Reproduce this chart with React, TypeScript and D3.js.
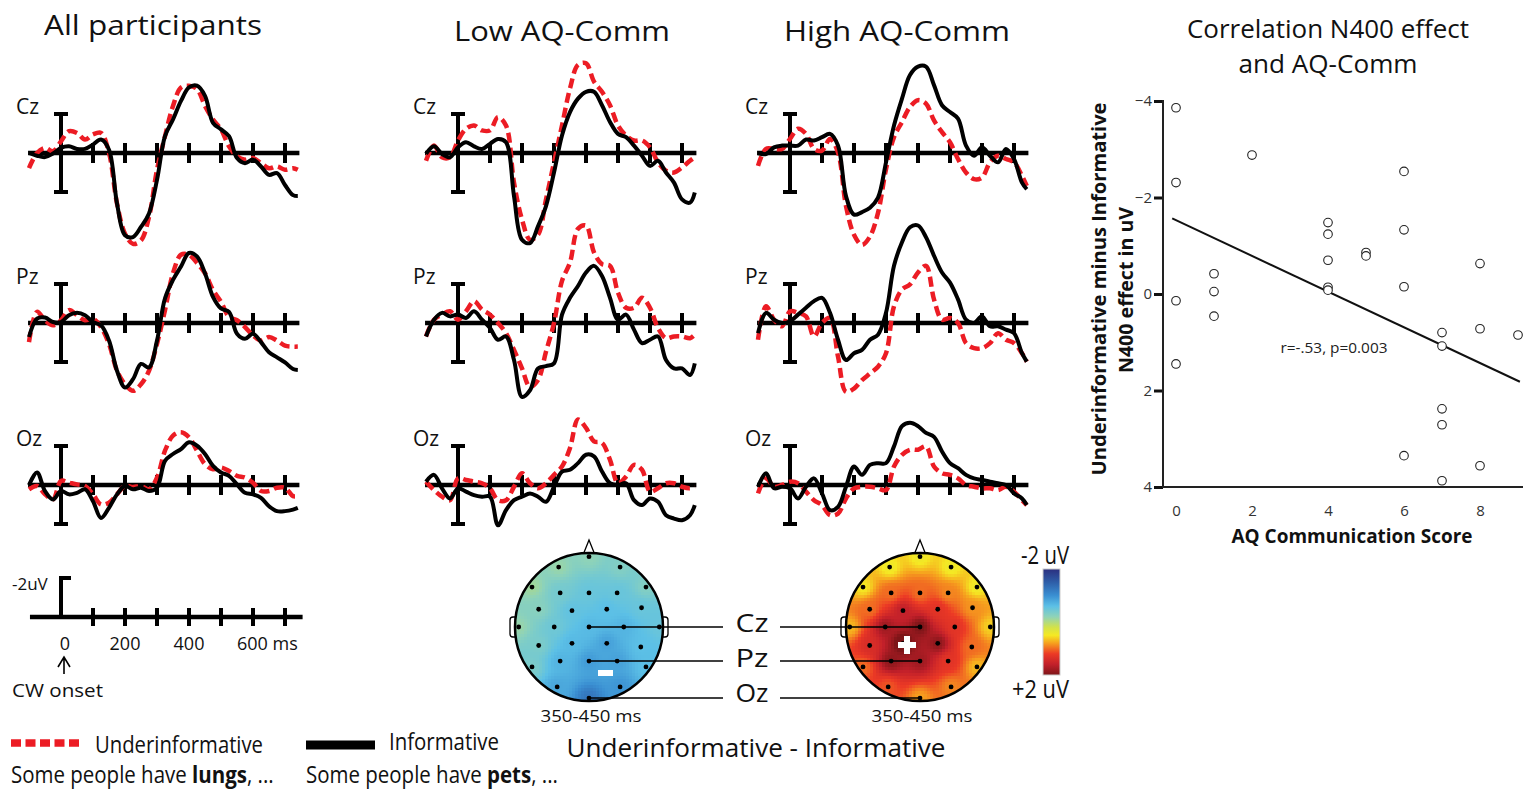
import React, { useEffect, useRef } from 'react'
import * as d3 from 'd3'

// ERP sample times (ms)
const times = [-100, -75, -50, -25, 0, 25, 50, 75, 100, 125, 150, 175, 200, 225, 250, 275, 300, 325, 350, 375, 400, 425, 450, 475, 500, 525, 550, 575, 600, 625, 650, 675, 700, 725, 740]
const erpTicks = [100, 200, 300, 400, 500, 600, 700]
const scaleLabels = [0, 200, 400, 600]

// amplitudes in uV (negative plotted up)
// All participants
const allCzUnder = [0.78, 0, -0.26, -0.09, -0.6, -1.12, -1.03, -0.69, -0.95, -1.03, 0, 2.59, 4.14, 4.66, 4.48, 3.28, 0.86, -0.86, -2.41, -3.36, -3.45, -3.28, -2.41, -1.72, -1.21, -0.34, 0.17, 0.34, 0.26, 0.52, 0.78, 0.69, 0.86, 0.78, 0.86]
const allCzInf = [0, 0.14, 0.21, 0.03, -0.26, -0.34, -0.21, -0.21, -0.43, -0.69, -0.17, 2.59, 4.22, 4.31, 3.79, 3.1, 1.38, -0.86, -1.72, -2.67, -3.36, -3.45, -2.93, -1.55, -1.21, -0.86, 0.26, 0.52, 0.34, 0.69, 1.12, 1.03, 1.64, 2.16, 2.21]
const allPzUnder = [0.98, -0.57, -0.14, 0.12, -0.14, -0.66, -0.4, -0.14, -0.22, 0.21, 1.07, 2.45, 3.14, 3.48, 3.14, 2.45, 1.07, -0.66, -2.55, -3.5, -3.5, -3.07, -2.55, -1.69, -1.09, -0.31, -0.14, 0.21, 0.64, 0.9, 0.72, 0.9, 1.16, 1.21, 1.21]
const allPzInf = [0.72, -0.22, -0.28, -0.05, -0.05, -0.4, -0.52, -0.4, -0.05, 0.12, 0.9, 2.45, 3.31, 2.88, 2.1, 2.28, 0.9, -1.26, -2.21, -2.9, -3.59, -3.41, -2.55, -1.34, -0.74, -0.57, 0.55, 0.81, 0.55, 0.98, 1.5, 1.76, 2.02, 2.36, 2.41]
const allOzUnder = [0.22, 0.05, 0.48, 0.74, -0.21, -0.12, -0.03, 0.05, 0.48, 1.0, 0.91, 0.48, 0.05, 0.1, 0.05, 0.22, -0.38, -1.76, -2.53, -2.71, -2.45, -1.76, -1.07, -0.81, -0.9, -0.72, -0.47, -0.38, -0.12, 0.31, 0.31, 0.14, 0.14, 0.57, 0.57]
const allOzInf = [0, -0.64, 0.31, 0.74, 0.31, 0.48, 0.4, 0.22, 0.83, 1.69, 1.17, 0.48, 0.05, 0.22, 0.14, 0.31, 0.14, -1.24, -1.59, -1.84, -2.19, -2.02, -1.59, -0.98, -0.64, -0.47, -0.03, 0.4, 0.48, 0.66, 1.09, 1.34, 1.34, 1.26, 1.17]
// Low AQ-Comm
const lowCzUnder = [0.4, -0.38, 0.22, 0.22, -0.64, -1.24, -1.41, -1.16, -1.16, -1.84, -1.41, 1.52, 3.41, 4.45, 4.19, 2.38, 0.48, -1.41, -3.31, -4.52, -4.6, -3.66, -3.14, -2.45, -1.41, -0.9, -0.64, -0.64, -0.29, 0.48, 0.91, 1.0, 0.74, 0.4, 0.22]
const lowCzInf = [0.05, -0.34, 0.05, 0.22, -0.29, -0.55, -0.34, -0.21, -0.47, -0.72, -0.55, 2.21, 4.45, 4.62, 3.76, 2.72, 1.0, -0.9, -2.1, -2.79, -3.14, -3.14, -2.45, -1.59, -0.98, -0.81, -0.38, 0.14, 0.66, 0.4, 1.0, 1.52, 2.38, 2.55, 2.03]
const lowPzUnder = [0.69, -0.17, -0.43, -0.6, -0.17, -0.6, -1.12, -0.69, -0.43, 0, 0.52, 1.38, 2.33, 3.28, 2.93, 1.47, 0, -2.16, -3.1, -4.83, -5.0, -3.62, -3.02, -2.93, -1.55, -0.78, -0.78, -1.29, -0.78, 0.26, 0.78, 0.69, 0.69, 0.78, 0.6]
const lowPzInf = [0.69, -0.17, -0.52, -0.34, -0.43, -0.26, -0.6, -0.17, 0.26, 0.86, 0.69, 1.9, 3.79, 3.45, 2.33, 2.21, 2.07, -0.43, -1.29, -1.9, -2.59, -2.93, -2.41, -1.29, -0.17, -0.43, 0.34, 1.03, 0.86, 0.69, 1.9, 2.33, 2.33, 2.67, 2.07]
const lowOzUnder = [-0.17, 0.26, 0.6, 0.78, -0.34, -0.26, -0.17, -0.09, 0.17, 0.78, 0.78, 0.09, -0.6, -0.09, 0.17, -0.09, -0.52, -0.95, -1.9, -3.36, -2.93, -2.24, -2.16, -1.29, -0.09, -0.43, -1.03, -0.78, 0.34, 0.17, -0.09, -0.09, 0.09, 0.17, 0.09]
const lowOzInf = [-0.17, -0.52, 0.17, 0.69, 0.17, 0.34, 0.52, 0.6, 0.6, 2.07, 1.29, 0.78, 0.6, 0.43, 0.6, 0.86, 0.09, -0.69, -0.78, -1.12, -1.55, -1.47, -0.69, -0.09, 0, -0.09, 0.78, 1.03, 0.69, 0.86, 1.55, 1.72, 1.81, 1.55, 1.03]
// High AQ-Comm
const highCzUnder = [0.66, -0.21, -0.21, -0.21, -0.72, -1.24, -0.98, -0.21, -0.12, -0.72, -0.03, 2.72, 4.19, 4.71, 4.28, 3.07, 0.83, -0.81, -1.59, -2.36, -2.71, -2.53, -1.67, -1.07, -0.55, 0.31, 1.0, 1.34, 1.26, 0.48, 0.14, 0.31, 0.48, 1.17, 1.69]
const highCzInf = [0, 0.05, -0.29, -0.38, -0.38, -0.38, -0.69, -0.64, -0.81, -0.98, -0.38, 2.21, 3.16, 3.03, 2.81, 2.29, 0.48, -1.41, -2.79, -4.0, -4.43, -4.43, -3.48, -2.45, -2.1, -1.76, -0.38, 0.14, -0.29, 0.14, 0.48, -0.21, 0.31, 1.52, 1.86]
const highPzUnder = [0.86, -0.86, -0.17, 0.17, -0.6, -0.52, -0.34, 0.69, 0, -0.26, 1.72, 3.53, 3.36, 2.93, 2.59, 2.24, 1.55, -0.86, -1.72, -1.98, -2.59, -2.93, -1.21, -0.17, -0.26, 0, 1.03, 1.29, 1.29, 1.03, 0.52, 0.86, 1.03, 1.55, 1.98]
const highPzInf = [0.52, -0.52, -0.17, 0, -0.09, -0.43, -0.78, -1.12, -1.29, -0.52, 0.86, 1.9, 1.55, 1.38, 0.86, 0.6, -0.52, -2.93, -4.14, -4.91, -5.0, -4.4, -3.45, -2.59, -2.07, -1.21, -0.17, 0, -0.34, 0.17, 0.17, 0.34, 0.52, 1.55, 1.98]
const highOzUnder = [0.43, -0.34, 0.09, 0, -0.17, -0.09, 0.34, 0.78, 1.03, 1.55, 1.47, 0.69, 0.17, 0.09, 0.09, 0.17, 0.26, -0.95, -1.55, -1.81, -1.81, -1.98, -0.95, -0.6, -0.52, -0.34, 0, 0.09, 0.17, 0.17, 0.26, 0.09, 0.34, 0.78, 1.03]
const highOzInf = [0.09, -0.6, 0.17, 0.09, 0.17, 0.69, 0.09, -0.34, 0.43, 1.29, 1.12, 0.09, -0.95, -0.52, -1.03, -1.12, -1.12, -1.98, -3.02, -3.19, -3.02, -2.67, -2.47, -1.72, -1.12, -0.86, -0.52, -0.34, -0.26, -0.17, -0.09, 0, 0.43, 0.69, 1.03]

const electrodeNames = ['Cz', 'Pz', 'Oz']

// topography: electrode positions (unit head) and mean difference in 350-450 ms
const electrodes = [[0, -0.95], [-0.41, -0.81], [0.42, -0.81], [-0.77, -0.54], [0.77, -0.54], [-0.39, -0.46], [0, -0.46], [0.38, -0.46], [-0.68, -0.24], [-0.23, -0.22], [0.24, -0.24], [0.71, -0.26], [-0.95, 0], [-0.47, 0], [0, 0], [0.47, 0], [0.95, 0], [-0.68, 0.25], [-0.23, 0.22], [0.24, 0.22], [0.7, 0.27], [-0.77, 0.54], [-0.39, 0.46], [0, 0.46], [0.38, 0.46], [0.77, 0.54], [-0.43, 0.81], [0.42, 0.81], [0, 0.96]]
const lowTopo = [-0.2, -0.15, -0.3, -0.1, -0.3, -0.4, -0.5, -0.5, -0.25, -0.55, -0.6, -0.5, -0.15, -0.45, -0.65, -0.7, -0.5, -0.35, -0.65, -0.85, -0.6, -0.35, -0.7, -0.9, -0.85, -0.6, -0.8, -0.95, -1.25]
const highTopo = [0.45, 0.45, 0.45, 0.5, 0.45, 1.0, 1.0, 0.9, 1.0, 1.6, 1.3, 0.85, 0.7, 1.8, 2.0, 1.3, 0.6, 1.4, 2.2, 1.9, 1.0, 1.0, 1.9, 1.8, 1.3, 0.7, 1.1, 0.9, 0.8]
const topoStops = [-2, -1.5, -1, -0.6, -0.2, 0.2, 0.5, 0.8, 1.2, 1.6, 2]
const topoColors = ['#2b2f7f', '#2e5ea8', '#3a8fd2', '#5cc0e6', '#8fd3b8', '#d2e24a', '#f5e923', '#f6a01e', '#ec3a25', '#c2202a', '#7d1518']

// correlation: AQ communication score vs N400 effect
const aqScore = [0, 0, 0, 0, 2, 1, 1, 1, 4, 4, 4, 4, 4, 5, 5, 6, 6, 6, 6, 7, 7, 7, 7, 7, 8, 8, 8, 9]
const n400Effect = [-3.86, -2.31, 0.14, 1.45, -2.88, -0.42, -0.05, 0.46, -1.48, -1.24, -0.7, -0.14, -0.08, -0.86, -0.79, -2.54, -1.33, -0.15, 3.35, 0.8, 1.08, 2.38, 2.71, 3.87, -0.63, 0.72, 3.56, 0.85]
const fitIntercept = -1.53
const fitSlope = 0.37
const yTicks = [-4, -2, 0, 2, 4]
const xTicks = [0, 2, 4, 6, 8]

const SANS = "'Open Sans', 'Noto Sans', sans-serif"
const RED = '#ec1c24'

function label(g: any, x: number, y: number, s: string, size: number, opts: any = {}) {
	const t = g.append('text')
		.attr('x', x).attr('y', y)
		.attr('font-family', SANS)
		.attr('font-size', size)
		.attr('font-weight', opts.weight || 400)
		.attr('text-anchor', opts.anchor || 'start')
		.attr('fill', opts.fill || '#111')
		.text(s)
	if (opts.len) t.attr('textLength', opts.len).attr('lengthAdjust', 'spacingAndGlyphs')
	return t
}

// sentence with a bold word, squeezed horizontally like a condensed face
function sentence(g: any, x: number, y: number, word: string, squeeze: number) {
	const t = g.append('g').attr('transform', `translate(${x},${y}) scale(${squeeze},1)`)
		.append('text')
		.attr('font-family', SANS).attr('font-size', 23).attr('fill', '#111')
	t.append('tspan').text('Some people have ')
	t.append('tspan').attr('font-weight', 700).text(word)
	t.append('tspan').text(', ...')
}

function draw(svg: any) {
	const panels = [
		{ title: 'All participants', tx: 153, ty: 35, tlen: 218, x0: 61, rows: [[allCzUnder, allCzInf], [allPzUnder, allPzInf], [allOzUnder, allOzInf]] },
		{ title: 'Low AQ-Comm', tx: 562, ty: 41, tlen: 216, x0: 458, rows: [[lowCzUnder, lowCzInf], [lowPzUnder, lowPzInf], [lowOzUnder, lowOzInf]] },
		{ title: 'High AQ-Comm', tx: 897, ty: 41, tlen: 226, x0: 790, rows: [[highCzUnder, highCzInf], [highPzUnder, highPzInf], [highOzUnder, highOzInf]] }
	]
	const rowBase = [153, 323, 485]

	panels.forEach(p => {
		const x = d3.scaleLinear().domain([0, 100]).range([p.x0, p.x0 + 32])
		label(svg, p.tx, p.ty, p.title, 28, { anchor: 'middle', len: p.tlen })

		p.rows.forEach((row, ri) => {
			const base = rowBase[ri]
			const y = d3.scaleLinear().domain([0, 1]).range([base, base + 19.5])
			const g = svg.append('g')

			// time axis with 100 ms ticks
			g.append('line').attr('x1', x(-103)).attr('x2', x(745)).attr('y1', base).attr('y2', base)
				.attr('stroke', '#000').attr('stroke-width', 4.5)
			g.selectAll('line.tick').data(erpTicks).enter().append('line')
				.attr('x1', (d: number) => x(d)).attr('x2', (d: number) => x(d))
				.attr('y1', base - 10).attr('y2', base + 10)
				.attr('stroke', '#000').attr('stroke-width', 4)

			// +-2 uV scale bar
			g.append('line').attr('x1', x(0)).attr('x2', x(0)).attr('y1', y(-2)).attr('y2', y(2))
				.attr('stroke', '#000').attr('stroke-width', 4)
			;[-2, 2].forEach(v => {
				g.append('line').attr('x1', x(0) - 7).attr('x2', x(0) + 7).attr('y1', y(v)).attr('y2', y(v))
					.attr('stroke', '#000').attr('stroke-width', 4)
			})
			label(g, x(0) - 45, base - 39, electrodeNames[ri], 21)

			const line = d3.line<number>()
				.x((d, i) => x(times[i]))
				.y(d => y(d))
				.curve(d3.curveCatmullRom.alpha(0.5))
			g.append('path').attr('d', line(row[0])).attr('fill', 'none')
				.attr('stroke', RED).attr('stroke-width', 4.5).attr('stroke-dasharray', '10 5')
			g.append('path').attr('d', line(row[1])).attr('fill', 'none')
				.attr('stroke', '#000').attr('stroke-width', 4).attr('stroke-linejoin', 'round')
		})
	})

	// calibration axis below first panel
	{
		const x = d3.scaleLinear().domain([0, 100]).range([61, 93])
		const base = 617
		const y = d3.scaleLinear().domain([0, 1]).range([base, base + 19.5])
		const g = svg.append('g')
		g.append('line').attr('x1', x(-97)).attr('x2', x(755)).attr('y1', base).attr('y2', base)
			.attr('stroke', '#000').attr('stroke-width', 4.5)
		g.selectAll('line.tick').data(erpTicks).enter().append('line')
			.attr('x1', (d: number) => x(d)).attr('x2', (d: number) => x(d))
			.attr('y1', base - 9).attr('y2', base + 9)
			.attr('stroke', '#000').attr('stroke-width', 4)
		g.append('line').attr('x1', x(0)).attr('x2', x(0)).attr('y1', y(-2)).attr('y2', base)
			.attr('stroke', '#000').attr('stroke-width', 4)
		g.append('line').attr('x1', x(0) - 2).attr('x2', x(0) + 10).attr('y1', y(-2)).attr('y2', y(-2))
			.attr('stroke', '#000').attr('stroke-width', 4)
		label(g, 12, 590, '-2uV', 17)
		scaleLabels.forEach(v => {
			if (v === 600) label(g, x(v) - 16, 650, '600 ms', 18)
			else label(g, x(v) + (v === 0 ? 4 : 0), 650, String(v), 18, { anchor: 'middle' })
		})
		g.append('path').attr('d', `M${x(0) - 3},667 L${x(0) + 3},657 L${x(0) + 9},667 M${x(0) + 3},657 L${x(0) + 3},674`)
			.attr('fill', 'none').attr('stroke', '#000').attr('stroke-width', 1.6)
		label(g, 12, 697, 'CW onset', 18, { len: 91 })
	}

	// legend
	{
		const g = svg.append('g')
		g.append('line').attr('x1', 11).attr('x2', 81).attr('y1', 743).attr('y2', 743)
			.attr('stroke', RED).attr('stroke-width', 7.5).attr('stroke-dasharray', '10 4.5')
		label(g, 95, 753, 'Underinformative', 24, { len: 168 })
		g.append('line').attr('x1', 306).attr('x2', 375).attr('y1', 745).attr('y2', 745)
			.attr('stroke', '#000').attr('stroke-width', 9)
		label(g, 389, 750, 'Informative', 24, { len: 110 })
		sentence(g, 11, 783, 'lungs', 0.89)
		sentence(g, 306, 783, 'pets', 0.89)
	}

	// topographic maps
	const color = d3.scaleLinear<string>().domain(topoStops).range(topoColors).clamp(true)
	const heads = [{ cx: 589, values: lowTopo, sign: '-' }, { cx: 920, values: highTopo, sign: '+' }]
	const cy = 627
	const r = 74
	const defs = svg.append('defs')
	heads.forEach((h, hi) => {
		const g = svg.append('g')
		const clipId = 'headclip' + hi
		defs.append('clipPath').attr('id', clipId).append('circle').attr('cx', h.cx).attr('cy', cy).attr('r', r)
		// nose & ears
		g.append('path').attr('d', `M${h.cx - 6},${cy - r + 2} L${h.cx},${cy - r - 13} L${h.cx + 6},${cy - r + 2}`)
			.attr('fill', '#fff').attr('stroke', '#000').attr('stroke-width', 1.3)
		;[-1, 1].forEach(sd => {
			g.append('rect').attr('x', sd < 0 ? h.cx - r - 5 : h.cx + r - 3).attr('y', cy - 10).attr('width', 8).attr('height', 20)
				.attr('rx', 3).attr('fill', '#fff').attr('stroke', '#000').attr('stroke-width', 1.3)
		})
		const cells: { x: number, y: number, v: number }[] = []
		const step = 3
		for (let px = h.cx - r; px < h.cx + r; px += step) {
			for (let py = cy - r; py < cy + r; py += step) {
				const nx = (px + step / 2 - h.cx) / r
				const ny = (py + step / 2 - cy) / r
				if (nx * nx + ny * ny > 1.1) continue
				let ws = 0, vs = 0
				electrodes.forEach((e, i) => {
					const d2 = (e[0] - nx) ** 2 + (e[1] - ny) ** 2 + 1e-4
					const w = 1 / Math.pow(d2, 1.3)
					ws += w
					vs += w * h.values[i]
				})
				cells.push({ x: px, y: py, v: vs / ws })
			}
		}
		g.append('g').attr('clip-path', `url(#${clipId})`)
			.selectAll('rect').data(cells).enter().append('rect')
			.attr('x', (d: any) => d.x).attr('y', (d: any) => d.y)
			.attr('width', step + 0.5).attr('height', step + 0.5)
			.attr('fill', (d: any) => color(d.v))
		g.append('circle').attr('cx', h.cx).attr('cy', cy).attr('r', r)
			.attr('fill', 'none').attr('stroke', '#000').attr('stroke-width', 2.5)
		g.selectAll('circle.el').data(electrodes).enter().append('circle')
			.attr('cx', (e: number[]) => h.cx + e[0] * r).attr('cy', (e: number[]) => cy + e[1] * r)
			.attr('r', 2.4).attr('fill', '#000')
		if (h.sign === '-') {
			g.append('rect').attr('x', h.cx + 9).attr('y', 670).attr('width', 15).attr('height', 6).attr('fill', '#fff')
		} else {
			g.append('rect').attr('x', h.cx - 22).attr('y', 642).attr('width', 18).attr('height', 6).attr('fill', '#fff')
			g.append('rect').attr('x', h.cx - 16).attr('y', 636).attr('width', 6).attr('height', 18).attr('fill', '#fff')
		}
		label(svg, h.cx + 2, 722, '350-450 ms', 17, { anchor: 'middle', len: 101 })
	})

	// electrode pointers
	const elY = [0, 0.46, 0.96].map(v => cy + v * r)
	const labY = [632, 667, 702]
	electrodeNames.forEach((n, i) => {
		svg.append('line').attr('x1', heads[0].cx).attr('x2', 723).attr('y1', elY[i]).attr('y2', elY[i])
			.attr('stroke', '#000').attr('stroke-width', 1.5)
		svg.append('line').attr('x1', 780).attr('x2', heads[1].cx).attr('y1', elY[i]).attr('y2', elY[i])
			.attr('stroke', '#000').attr('stroke-width', 1.5)
		label(svg, 752, labY[i], n, 26, { anchor: 'middle', len: 33 })
	})
	label(svg, 756, 757, 'Underinformative - Informative', 25, { anchor: 'middle', len: 379 })

	// colour bar
	{
		const grad = defs.append('linearGradient').attr('id', 'cbar').attr('x1', 0).attr('x2', 0).attr('y1', 0).attr('y2', 1)
		topoStops.forEach((s, i) => {
			grad.append('stop').attr('offset', (s + 2) / 4).attr('stop-color', topoColors[i])
		})
		svg.append('rect').attr('x', 1043).attr('y', 569).attr('width', 17).attr('height', 106)
			.attr('fill', 'url(#cbar)').attr('stroke', '#ccc').attr('stroke-width', 1)
		label(svg, 1069, 564, '-2 uV', 26, { anchor: 'end', len: 48 })
		label(svg, 1069, 698, '+2 uV', 26, { anchor: 'end', len: 57 })
	}

	// correlation scatter
	{
		const sx = d3.scaleLinear().domain([0, 9]).range([1176, 1518])
		const sy = d3.scaleLinear().domain([-4, 4]).range([101, 487])
		const g = svg.append('g')
		label(g, 1328, 38, 'Correlation N400 effect', 26, { anchor: 'middle', len: 282 })
		label(g, 1328, 73, 'and AQ-Comm', 26, { anchor: 'middle', len: 179 })

		const yAxis = g.append('g').attr('transform', 'translate(1163,0)')
			.call(d3.axisLeft(sy).tickValues(yTicks).tickSize(9).tickPadding(2).tickFormat(d3.format('d')))
		yAxis.select('.domain').remove()
		yAxis.selectAll('line').attr('stroke', '#111').attr('stroke-width', 3)
		yAxis.selectAll('text').attr('font-family', SANS).attr('font-size', 15).attr('fill', '#333')

		const xAxis = g.append('g').attr('transform', 'translate(0,487)')
			.call(d3.axisBottom(sx).tickValues(xTicks).tickSize(0).tickPadding(18))
		xAxis.select('.domain').remove()
		xAxis.selectAll('text').attr('font-family', SANS).attr('font-size', 15).attr('fill', '#333')

		g.append('line').attr('x1', 1163).attr('x2', 1163).attr('y1', sy(-4) - 1).attr('y2', 488)
			.attr('stroke', '#222').attr('stroke-width', 2)
		g.append('line').attr('x1', 1162).attr('x2', 1523).attr('y1', 487).attr('y2', 487)
			.attr('stroke', '#222').attr('stroke-width', 2)

		const fit = d3.line<number>().x(d => sx(d)).y(d => sy(fitIntercept + fitSlope * d))
		g.append('path').attr('d', fit([-0.1, 9.05])).attr('fill', 'none')
			.attr('stroke', '#111').attr('stroke-width', 2)

		g.selectAll('circle.pt').data(aqScore).enter().append('circle')
			.attr('cx', (d: number) => sx(d)).attr('cy', (d: number, i: number) => sy(n400Effect[i]))
			.attr('r', 4.3).attr('fill', '#fff').attr('stroke', '#222').attr('stroke-width', 1.1)

		label(g, 1334, 353, 'r=-.53, p=0.003', 15, { anchor: 'middle', fill: '#222', len: 107 })

		const yl = g.append('g')
		label(yl, 0, 0, 'Underinformative minus Informative', 19, { anchor: 'middle', weight: 700, len: 373 })
			.attr('transform', 'translate(1106,289) rotate(-90)').attr('x', null).attr('y', null)
		label(yl, 0, 0, 'N400 effect in uV', 19, { anchor: 'middle', weight: 700, len: 166 })
			.attr('transform', 'translate(1133,290) rotate(-90)').attr('x', null).attr('y', null)
		label(g, 1352, 543, 'AQ Communication Score', 20, { anchor: 'middle', weight: 700, len: 241 })
	}
}

export default function App() {
	const ref = useRef<SVGSVGElement>(null)

	useEffect(() => {
		const svg = d3.select(ref.current)
		svg.selectAll('*').remove()
		draw(svg)
	}, [])

	return (
		<svg ref={ref} width={1524} height={792}
			style={{ position: 'absolute', left: 0, top: 0, background: '#fff', display: 'block' }} />
	)
}
